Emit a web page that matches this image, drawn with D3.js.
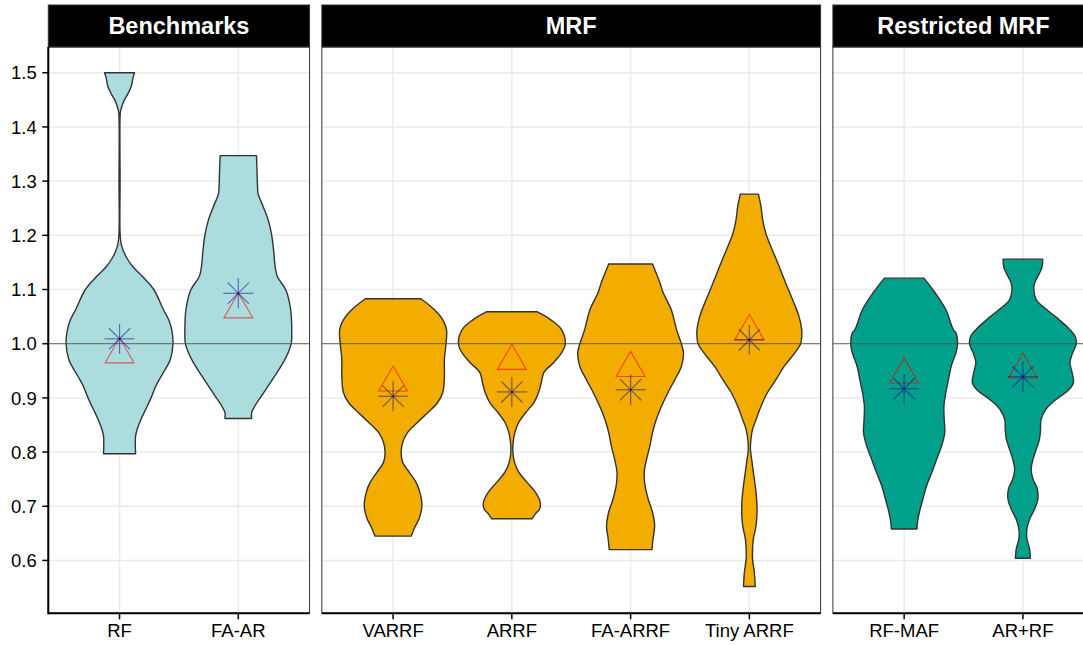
<!DOCTYPE html>
<html>
<head>
<meta charset="utf-8">
<script src="https://cdn.jsdelivr.net/npm/d3@7"></script>
<style>
  html, body { margin: 0; padding: 0; background: #fff; }
  svg { display: block; font-family: "Liberation Sans", Arial, Helvetica, sans-serif; }
</style>
</head>
<body>
<svg id="chart" width="1083" height="645"></svg>
<script>
// Facets and the forecasting methods shown in each one
const facetNames = ["Benchmarks", "MRF", "Restricted MRF"];
const facetMethods = [
  ["RF", "FA-AR"],
  ["VARRF", "ARRF", "FA-ARRF", "Tiny ARRF"],
  ["RF-MAF", "AR+RF"]
];
const facetFills = ["#ABDDDE", "#F2AD00", "#00A08A"];

// Relative RMSE summary per method (same order as the flattened facetMethods)
const methodNames  = ["RF", "FA-AR", "VARRF", "ARRF", "FA-ARRF", "Tiny ARRF", "RF-MAF", "AR+RF"];
const meanRatio    = [0.980, 1.063, 0.928, 0.968, 0.955, 1.023, 0.943, 0.952];
const medianRatio  = [1.009, 1.093, 0.903, 0.911, 0.915, 1.007, 0.917, 0.939];

const yTickValues = [0.6, 0.7, 0.8, 0.9, 1.0, 1.1, 1.2, 1.3, 1.4, 1.5];
const referenceRatio = 1.0;

// Kernel density profiles: [relative RMSE, density scaled so the widest violin = 1]
const densityRF = [
  [1.500, 0.28], [1.490, 0.25], [1.475, 0.22], [1.460, 0.15], [1.450, 0.09], [1.440, 0.05],
  [1.430, 0.02], [1.420, 0.01], [1.300, 0.01], [1.200, 0.012], [1.180, 0.04], [1.160, 0.125],
  [1.142, 0.25], [1.124, 0.43], [1.100, 0.64], [1.063, 0.82], [1.044, 0.92], [1.024, 0.98],
  [1.000, 1.00], [0.971, 0.95], [0.940, 0.78], [0.922, 0.68], [0.900, 0.59], [0.879, 0.49],
  [0.860, 0.40], [0.842, 0.33], [0.830, 0.30], [0.815, 0.295], [0.797, 0.30]
];
const densityFAAR = [
  [1.347, 0.34], [1.320, 0.35], [1.290, 0.36], [1.277, 0.37], [1.252, 0.47], [1.228, 0.56],
  [1.203, 0.62], [1.173, 0.66], [1.142, 0.69], [1.124, 0.73], [1.099, 0.89], [1.063, 0.98],
  [1.026, 1.00], [1.000, 0.99], [0.983, 0.93], [0.965, 0.84], [0.940, 0.68], [0.922, 0.56],
  [0.903, 0.43], [0.885, 0.31], [0.873, 0.25], [0.862, 0.25]
];
const densityVARRF = [
  [1.083, 0.52], [1.063, 0.77], [1.044, 0.93], [1.026, 1.00], [1.000, 0.99], [0.971, 0.96],
  [0.940, 0.96], [0.910, 0.93], [0.891, 0.83], [0.873, 0.65], [0.855, 0.46], [0.836, 0.27],
  [0.818, 0.18], [0.799, 0.15], [0.781, 0.18], [0.763, 0.30], [0.744, 0.43], [0.726, 0.50],
  [0.702, 0.54], [0.678, 0.49], [0.660, 0.40], [0.645, 0.34]
];
const densityARRF = [
  [1.059, 0.47], [1.044, 0.73], [1.026, 0.93], [1.000, 1.00], [0.983, 0.93], [0.965, 0.78],
  [0.947, 0.60], [0.928, 0.55], [0.910, 0.50], [0.891, 0.41], [0.873, 0.26], [0.855, 0.13],
  [0.836, 0.056], [0.818, 0.025], [0.799, 0.02], [0.781, 0.05], [0.763, 0.13], [0.744, 0.285],
  [0.726, 0.44], [0.708, 0.53], [0.695, 0.52], [0.686, 0.44], [0.677, 0.38]
];
const densityFAARRF = [
  [1.147, 0.41], [1.112, 0.55], [1.094, 0.61], [1.063, 0.76], [1.026, 0.86], [1.000, 0.95],
  [0.983, 0.99], [0.958, 0.95], [0.934, 0.83], [0.910, 0.70], [0.885, 0.58], [0.860, 0.48],
  [0.836, 0.41], [0.811, 0.36], [0.787, 0.30], [0.763, 0.255], [0.738, 0.27], [0.713, 0.33],
  [0.689, 0.41], [0.664, 0.45], [0.640, 0.42], [0.620, 0.40]
];
const densityTinyARRF = [
  [1.276, 0.17], [1.252, 0.22], [1.228, 0.25], [1.203, 0.31], [1.173, 0.43], [1.142, 0.56],
  [1.112, 0.68], [1.081, 0.81], [1.050, 0.93], [1.026, 0.98], [1.013, 0.98], [1.000, 0.96],
  [0.983, 0.85], [0.958, 0.65], [0.934, 0.50], [0.910, 0.34], [0.885, 0.22], [0.860, 0.125],
  [0.842, 0.06], [0.824, 0.03], [0.805, 0.02], [0.787, 0.043], [0.763, 0.075], [0.738, 0.11],
  [0.713, 0.136], [0.689, 0.143], [0.664, 0.125], [0.640, 0.075], [0.621, 0.06], [0.603, 0.06],
  [0.578, 0.093], [0.552, 0.11]
];
const densityRFMAF = [
  [1.121, 0.37], [1.094, 0.58], [1.063, 0.78], [1.026, 0.92], [1.020, 0.97], [1.000, 1.00],
  [0.983, 0.97], [0.958, 0.88], [0.934, 0.83], [0.910, 0.78], [0.885, 0.745], [0.860, 0.75],
  [0.836, 0.76], [0.811, 0.70], [0.787, 0.61], [0.763, 0.52], [0.738, 0.42], [0.713, 0.35],
  [0.689, 0.285], [0.671, 0.25], [0.658, 0.24]
];
const densityARRFcomb = [
  [1.156, 0.37], [1.142, 0.36], [1.130, 0.31], [1.112, 0.22], [1.099, 0.205], [1.081, 0.25],
  [1.069, 0.37], [1.050, 0.61], [1.044, 0.68], [1.026, 0.88], [1.013, 0.98], [1.000, 1.00],
  [0.983, 0.93], [0.965, 0.88], [0.947, 0.92], [0.928, 0.945], [0.913, 0.84], [0.897, 0.62],
  [0.879, 0.43], [0.860, 0.34], [0.842, 0.33], [0.824, 0.31], [0.805, 0.25], [0.787, 0.19],
  [0.768, 0.155], [0.750, 0.19], [0.732, 0.27], [0.713, 0.28], [0.695, 0.22], [0.676, 0.125],
  [0.658, 0.075], [0.640, 0.075], [0.621, 0.125], [0.604, 0.14]
];
const densityProfiles = [densityRF, densityFAAR, densityVARRF, densityARRF,
  densityFAARRF, densityTinyARRF, densityRFMAF, densityARRFcomb];

// ---- layout ----
const svg = d3.select("#chart");
const plotLeft = 48.3, panelGap = 12.3, unit = 118.75, expand = 0.6;
const stripTop = 5, stripBottom = 47, panelBottom = 613.3;

const y = d3.scaleLinear().domain([0.5025, 1.5475]).range([panelBottom, stripBottom]);

let cursor = plotLeft;
const panels = facetNames.map((name, i) => {
  const n = facetMethods[i].length;
  const w = (n - 1 + 2 * expand) * unit;
  const x = d3.scalePoint().domain(facetMethods[i]).range([cursor, cursor + w]).padding(expand);
  const p = { name, i, x0: cursor, x1: cursor + w, x };
  cursor += w + panelGap;
  return p;
});

const halfMax = 0.45 * unit;
const violinArea = (cx) => d3.area()
  .y(d => y(d[0]))
  .x0(d => cx - d[1] * halfMax)
  .x1(d => cx + d[1] * halfMax)
  .curve(d3.curveCatmullRom.alpha(0.5));

panels.forEach(p => {
  const g = svg.append("g");

  // background gridlines
  g.selectAll("line.hgrid").data(yTickValues).join("line")
    .attr("x1", p.x0).attr("x2", p.x1)
    .attr("y1", d => y(d)).attr("y2", d => y(d))
    .attr("stroke", "#EBEBEB").attr("stroke-width", 1.5);
  g.selectAll("line.vgrid").data(facetMethods[p.i]).join("line")
    .attr("x1", d => p.x(d)).attr("x2", d => p.x(d))
    .attr("y1", stripBottom).attr("y2", panelBottom)
    .attr("stroke", "#EBEBEB").attr("stroke-width", 1.5);

  // violins
  facetMethods[p.i].forEach(m => {
    const k = methodNames.indexOf(m);
    g.append("path")
      .datum(densityProfiles[k])
      .attr("d", violinArea(p.x(m)))
      .attr("fill", facetFills[p.i])
      .attr("stroke", "#333333")
      .attr("stroke-width", 1.4)
      .attr("stroke-linejoin", "round");
  });

  // reference line at ratio 1
  g.append("line")
    .attr("x1", p.x0).attr("x2", p.x1)
    .attr("y1", y(referenceRatio)).attr("y2", y(referenceRatio))
    .attr("stroke", "#4d4d4d").attr("stroke-opacity", 0.85).attr("stroke-width", 1);

  // mean (open triangle) and median (asterisk)
  const r = 16.7, hw = r * 1.347 / 1.555;
  facetMethods[p.i].forEach(m => {
    const k = methodNames.indexOf(m);
    const cx = p.x(m);
    const cyMean = y(meanRatio[k]);
    g.append("path")
      .attr("d", `M${cx},${cyMean - r}L${cx + hw},${cyMean + r / 2}L${cx - hw},${cyMean + r / 2}Z`)
      .attr("fill", "none").attr("stroke", "#FF0000")
      .attr("stroke-opacity", 0.6).attr("stroke-width", 1.1);
    const cyMed = y(medianRatio[k]);
    const arm = 15;
    [0, 45, 90, 135].forEach(a => {
      const dx = arm * Math.cos(a * Math.PI / 180), dy = arm * Math.sin(a * Math.PI / 180);
      g.append("line")
        .attr("x1", cx - dx).attr("x2", cx + dx)
        .attr("y1", cyMed - dy).attr("y2", cyMed + dy)
        .attr("stroke", "#00008B").attr("stroke-opacity", 0.5).attr("stroke-width", 1.2);
    });
  });

  // panel border
  g.append("rect")
    .attr("x", p.x0).attr("y", stripBottom)
    .attr("width", p.x1 - p.x0).attr("height", panelBottom - stripBottom)
    .attr("fill", "none").attr("stroke", "#333333").attr("stroke-width", 1);

  // strip
  g.append("rect")
    .attr("x", p.x0).attr("y", stripTop)
    .attr("width", p.x1 - p.x0).attr("height", stripBottom - stripTop)
    .attr("fill", "#000").attr("stroke", "#333").attr("stroke-width", 1);
  g.append("text")
    .attr("x", (p.x0 + p.x1) / 2).attr("y", 34)
    .attr("text-anchor", "middle")
    .attr("fill", "#fff").attr("font-weight", "bold").attr("font-size", "23.5px")
    .text(p.name);

  // x axis
  const xAxis = g.append("g").attr("transform", `translate(0,${panelBottom})`);
  xAxis.append("line")
    .attr("x1", p.x0).attr("x2", p.x1).attr("y1", 0).attr("y2", 0)
    .attr("stroke", "#000").attr("stroke-width", 2);
  xAxis.selectAll("line.tick").data(facetMethods[p.i]).join("line")
    .attr("x1", d => p.x(d)).attr("x2", d => p.x(d))
    .attr("y1", 0).attr("y2", 6)
    .attr("stroke", "#000").attr("stroke-width", 1.5);
  xAxis.selectAll("text").data(facetMethods[p.i]).join("text")
    .attr("x", d => p.x(d)).attr("y", 23.5)
    .attr("text-anchor", "middle").attr("font-size", "18.5px").attr("fill", "#000")
    .text(d => d);
});

// y axis on the first panel
const yAxis = svg.append("g");
yAxis.append("line")
  .attr("x1", plotLeft).attr("x2", plotLeft)
  .attr("y1", stripBottom).attr("y2", panelBottom + 1)
  .attr("stroke", "#000").attr("stroke-width", 2);
yAxis.selectAll("line.tick").data(yTickValues).join("line")
  .attr("x1", plotLeft - 6).attr("x2", plotLeft)
  .attr("y1", d => y(d)).attr("y2", d => y(d))
  .attr("stroke", "#000").attr("stroke-width", 1.5);
yAxis.selectAll("text").data(yTickValues).join("text")
  .attr("x", plotLeft - 11.5).attr("y", d => y(d))
  .attr("dy", "0.36em")
  .attr("text-anchor", "end").attr("font-size", "18.5px").attr("fill", "#000")
  .text(d => d3.format(".1f")(d));
</script>
</body>
</html>
